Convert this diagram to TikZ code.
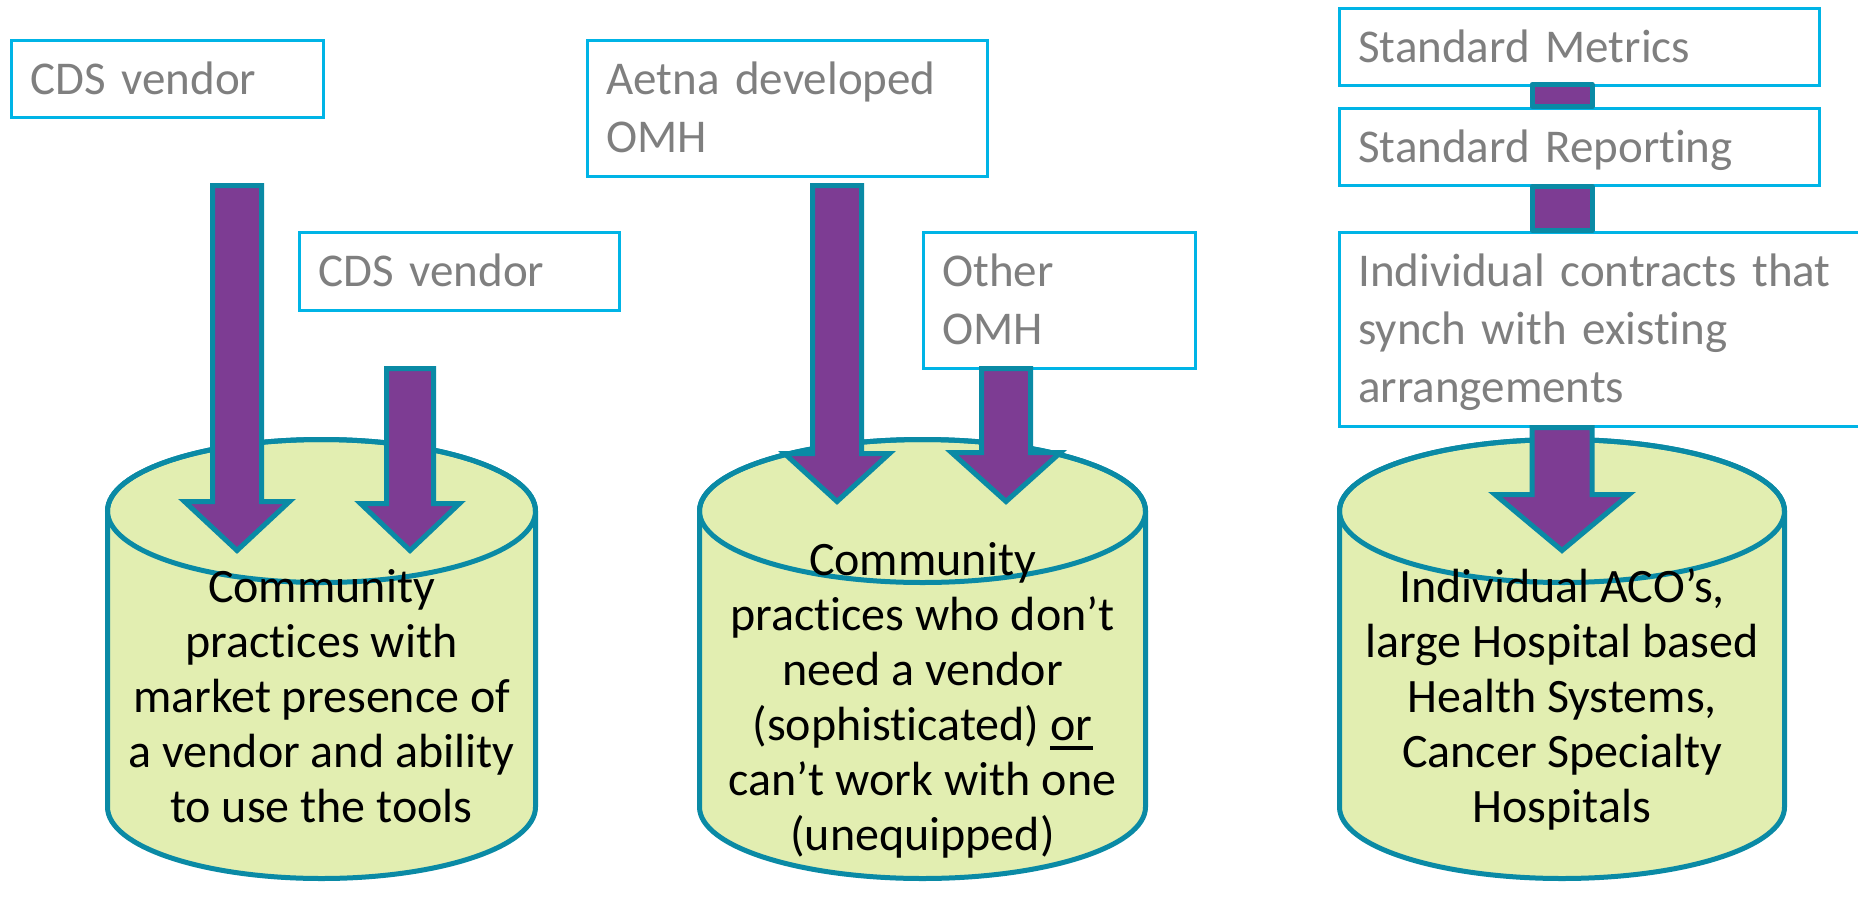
\documentclass[tikz,border=0pt]{standalone}
\usepackage{fontspec}
\setmainfont{Carlito}[Ligatures=CommonOff]

\definecolor{boxline}{HTML}{00B4E6}
\definecolor{greytext}{HTML}{7F7F7F}
\definecolor{arrowfill}{HTML}{7D3C93}
\definecolor{tealline}{HTML}{0A8AA5}
\definecolor{cylfill}{HTML}{E2EEB1}

% struts that fix the vertical placement of text
\newcommand\lnstrut{\rule[-10.5pt]{0pt}{51.5pt}}
\newcommand\firstline{\rule{0pt}{41pt}}
% thick underline
\newcommand\orline[1]{\setbox0\hbox{#1}\rlap{\rule[-9.6pt]{\wd0}{3.4pt}}#1}

% cylinder: centre x, x radius
\newcommand\drum[2]{%
  \filldraw[drumbody] (#1-#2,-511) -- (#1-#2,-807)
    arc[start angle=180,end angle=360,x radius=#2,y radius=71.5]
    -- (#1+#2,-511)
    arc[start angle=0,end angle=180,x radius=#2,y radius=71.5] -- cycle;
  \draw[drumbody,fill=none] (#1,-511) ellipse[x radius=#2,y radius=71.5];}

% block arrow: centre x, top, head base, tip, shaft half width, head half width
\newcommand\blockarrow[6]{%
  \filldraw[blockarrowstyle] (#1-#5,-#2) -- (#1+#5,-#2) -- (#1+#5,-#3)
    -- (#1+#6,-#3) -- (#1,-#4) -- (#1-#6,-#3) -- (#1-#5,-#3) -- cycle;}

\tikzset{
  greybox/.style={draw=boxline, line width=2.5pt, fill=white, text=greytext,
    font=\fontsize{47}{58}\selectfont, align=left, anchor=north west,
    inner xsep=19pt, inner ysep=0pt},
  drumbody/.style={fill=cylfill, draw=tealline, line width=5pt},
  drumtext/.style={font=\fontsize{48}{55}\selectfont, align=center,
    inner sep=0pt, anchor=north, text=black},
  blockarrowstyle/.style={fill=arrowfill, draw=tealline, line width=5pt, line join=miter},
  linkbar/.style={fill=arrowfill, draw=tealline, line width=5pt, line join=round}
}

\begin{document}
\begin{tikzpicture}[x=1pt,y=1pt]
\useasboundingbox (0,0) rectangle (1858,-903);
\fill[white] (0,0) rectangle (1858,-903);

% source boxes
\node[greybox, minimum width=312pt, minimum height=77pt, text width=274pt]
  (cdsA) at (10,-39) {\lnstrut CDS vendor};
\node[greybox, minimum width=320pt, minimum height=78pt, text width=282pt]
  (cdsB) at (298,-231) {\lnstrut CDS vendor};
\node[greybox, minimum width=400pt, minimum height=136pt, text width=362pt]
  (aetna) at (586,-39) {\lnstrut Aetna developed\\\lnstrut OMH};
\node[greybox, minimum width=272pt, minimum height=136pt, text width=234pt]
  (other) at (922,-231) {\lnstrut Other\\\lnstrut OMH};
\node[greybox, minimum width=480pt, minimum height=77pt, text width=442pt]
  (metrics) at (1338,-7) {\lnstrut Standard Metrics};
\node[greybox, minimum width=480pt, minimum height=77pt, text width=442pt]
  (reporting) at (1338,-107) {\lnstrut Standard Reporting};
\node[greybox, minimum width=542pt, minimum height=194pt, text width=504pt]
  (contracts) at (1338,-231)
  {\lnstrut Individual contracts that\\\lnstrut synch with existing\\\lnstrut arrangements};

% cylinders
\drum{321.5}{214}
\drum{922.5}{223}
\drum{1562}{222.5}

\node[drumtext] (groupA) at (321.5,-561)
  {\firstline Community\\practices with\\market presence of\\a vendor and ability\\to use the tools};
\node[drumtext] (groupB) at (922.5,-534)
  {\firstline Community\\practices who don’t\\need a vendor\\(sophisticated) \orline{or}\\can’t work with one\\(unequipped)};
\node[drumtext] (groupC) at (1562,-561)
  {\firstline Individual ACO’s,\\large Hospital based\\Health Systems,\\Cancer Specialty\\Hospitals};

% arrows
\blockarrow{237}{185.5}{501.5}{550.5}{24.5}{52.5}
\blockarrow{410}{368.5}{503.5}{550.5}{23.5}{49.5}
\blockarrow{837}{185.5}{453.5}{501.5}{24.5}{52.5}
\blockarrow{1006}{368.5}{452.5}{501.5}{24.5}{54.5}
\blockarrow{1562}{427.5}{494.5}{550.5}{30}{67}

% links between the stacked boxes
\filldraw[linkbar] (1532,-84.5) rectangle (1592,-106.5);
\filldraw[linkbar] (1532,-186.5) rectangle (1592,-230.5);
\end{tikzpicture}
\end{document}
